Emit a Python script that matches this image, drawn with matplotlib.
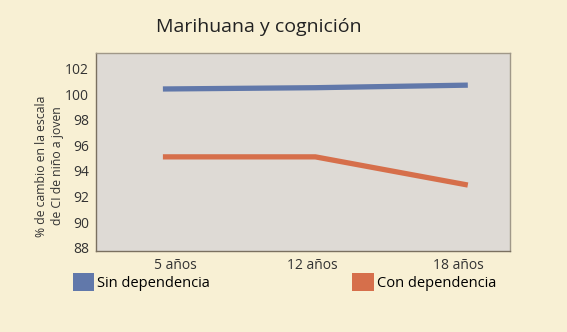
import matplotlib.pyplot as plt
from matplotlib.patches import Patch

edades = ['5 años', '12 años', '18 años']
sin_dep = [100.4, 100.5, 100.7]
con_dep = [95.1, 95.1, 92.9]
yticks = [88, 90, 92, 94, 96, 98, 100, 102]

bg = '#f8f0d4'
azul = '#6178aa'
naranja = '#d66f4b'

plt.rcParams['font.family'] = ['Open Sans', 'DejaVu Sans']

fig = plt.figure(figsize=(5.67, 3.32), dpi=100, facecolor=bg)
ax = fig.add_axes([0.169, 0.244, 0.73, 0.596])
ax.set_facecolor('#dedad5')

x = range(len(edades))
ax.plot(x, sin_dep, color=azul, lw=3.8, solid_capstyle='butt')
ax.plot(x, con_dep, color=naranja, lw=3.8, solid_capstyle='butt')

ax.set_xlim(-0.44, 2.275)
ax.set_ylim(87.75, 103.2)
ax.set_yticks(yticks)
ax.set_yticklabels([str(v) for v in yticks], fontsize=10, color='#333333')
ax.set_xticks([0.08, 0.98, 1.94])
ax.set_xticklabels(edades, fontsize=10, color='#333333')
ax.tick_params(length=0, pad=5)

for s in ax.spines.values():
    s.set_color('#a09888')
    s.set_linewidth(1.0)
ax.spines['left'].set_color('#7a7060')
ax.spines['bottom'].set_color('#7a7060')

ax.set_ylabel('% de cambio en la escala\nde CI de niño a joven', fontsize=8.8,
              color='#333333', linespacing=1.25)
ax.yaxis.set_label_coords(-0.078, 0.43)

fig.text(0.457, 0.92, 'Marihuana y cognición', ha='center', va='center',
         fontsize=14, color='#222222')

handles = [Patch(facecolor=azul, edgecolor='none', label='Sin dependencia'),
           Patch(facecolor=naranja, edgecolor='none', label='Con dependencia')]
fig.legend(handles=handles, loc='upper left', bbox_to_anchor=(0.128, 0.178),
           ncol=2, frameon=False, fontsize=10.5, handlelength=1.5,
           handleheight=1.5, handletextpad=0.2, columnspacing=9.75,
           borderaxespad=0, borderpad=0)

fig.savefig('out.png', dpi=100, facecolor=bg)
